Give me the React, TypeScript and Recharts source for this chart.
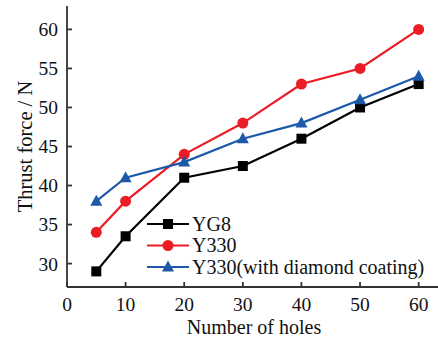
import { LineChart, Line, XAxis, YAxis, Legend } from 'recharts';

const holes = [5, 10, 20, 30, 40, 50, 60];
const yg8 = [29, 33.5, 41, 42.5, 46, 50, 53];
const y330 = [34, 38, 44, 48, 53, 55, 60];
const y330Coated = [38, 41, 43, 46, 48, 51, 54];

const xTicks = [0, 10, 20, 30, 40, 50, 60];
const yTicks = [30, 35, 40, 45, 50, 55, 60];

const FONT = 'Liberation Serif, Times New Roman, serif';
const AXIS = '#333333';
const RED = '#ec1c24';
const BLUE = '#1c59a8';

const rows = holes.map((h, i) => ({ holes: h, yg8: yg8[i], y330: y330[i], coated: y330Coated[i] }));

const SERIES = [
  { key: 'yg8', name: 'YG8', color: '#000000', shape: 'square' },
  { key: 'y330', name: 'Y330', color: RED, shape: 'circle' },
  { key: 'coated', name: 'Y330(with diamond coating)', color: BLUE, shape: 'triangle' },
];

function Marker({ cx, cy, shape, color }: { cx: number; cy: number; shape: string; color: string }) {
  if (shape === 'square') return <rect x={cx - 5} y={cy - 5} width={10} height={10} fill={color} />;
  if (shape === 'circle') return <circle cx={cx} cy={cy} r={5.5} fill={color} />;
  return <path d={`M${cx},${cy - 6.5} L${cx + 6},${cy + 4.5} L${cx - 6},${cy + 4.5} Z`} fill={color} />;
}

const dotFor = (shape: string, color: string) => (p: any) => (
  <Marker key={`${shape}-${p.index}`} cx={p.cx} cy={p.cy} shape={shape} color={color} />
);

function LegendBox() {
  return (
    <svg width={300} height={70} style={{ overflow: 'visible', display: 'block' }}>
      {SERIES.map((s, i) => {
        const y = 12 + i * 21.5;
        return (
          <g key={s.key}>
            <line x1={2} x2={44} y1={y} y2={y} stroke={s.color} strokeWidth={2.2} />
            <Marker cx={23} cy={y} shape={s.shape} color={s.color} />
            <text x={47} y={y + 6.5} style={{ fontFamily: FONT }} fontSize={20} fill="#111">{s.name}</text>
          </g>
        );
      })}
    </svg>
  );
}

export default function App() {
  return (
    <div style={{ position: 'absolute', left: 0, top: 0, background: '#fff', fontFamily: FONT }}>
      <LineChart width={438} height={349} data={rows} margin={{ top: 6, right: 0, bottom: 0, left: 0 }} style={{ fontFamily: FONT }}>
        <XAxis
          dataKey="holes"
          type="number"
          domain={[0, 63.3]}
          ticks={xTicks}
          allowDataOverflow
          height={62}
          stroke={AXIS}
          strokeWidth={1.8}
          tickSize={-5}
          tickMargin={15}
          tick={{ fill: '#111', fontSize: 19.5, style: { fontFamily: FONT } }}
          label={{ value: 'Number of holes', position: 'insideBottom', offset: 15, dx: 1.5, fill: '#111', fontSize: 20, style: { fontFamily: FONT } }}
        />
        <XAxis xAxisId="top" orientation="top" dataKey="holes" type="number" domain={[0, 63.3]} height={0} tick={false} tickLine={false} stroke={AXIS} strokeWidth={1.8} />
        <YAxis
          type="number"
          domain={[27, 63]}
          ticks={yTicks}
          allowDataOverflow
          width={67}
          stroke={AXIS}
          strokeWidth={1.8}
          tickSize={-5}
          tickMargin={14}
          tick={{ fill: '#111', fontSize: 19.5, style: { fontFamily: FONT } }}
          label={{ value: 'Thrust force / N', angle: -90, position: 'center', dx: -8.5, fill: '#111', fontSize: 20.5, style: { fontFamily: FONT } }}
        />
        <Legend
          layout="vertical"
          align="center"
          verticalAlign="middle"
          content={<LegendBox />}
          wrapperStyle={{ left: 145, top: 212, width: 300, margin: 0 }}
        />
        {SERIES.map((s) => (
          <Line
            key={s.key}
            dataKey={s.key}
            name={s.name}
            stroke={s.color}
            strokeWidth={2.2}
            type="linear"
            dot={dotFor(s.shape, s.color)}
            activeDot={false}
            isAnimationActive={false}
          />
        ))}
      </LineChart>
    </div>
  );
}
